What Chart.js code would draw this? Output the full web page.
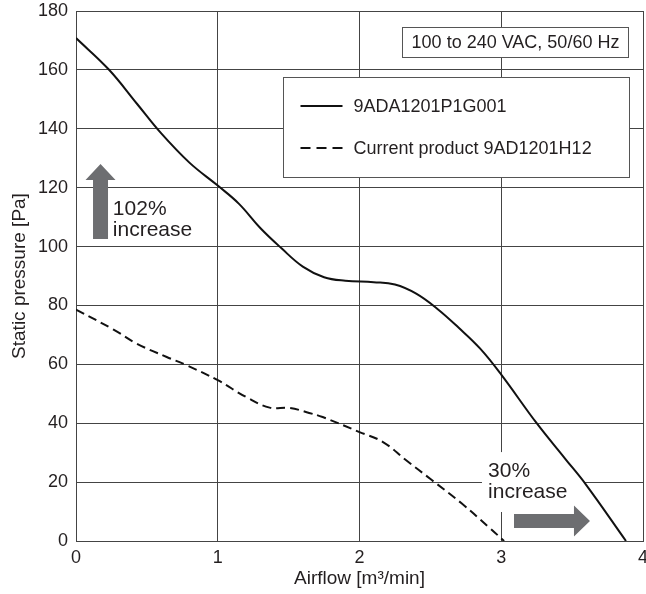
<!DOCTYPE html>
<html><head><meta charset="utf-8">
<script src="https://cdn.jsdelivr.net/npm/chart.js@4"></script>
<style>
html,body{margin:0;padding:0;background:#fff;overflow:hidden;}
#wrap{width:646px;height:594px;position:relative;overflow:hidden;}
</style></head><body>
<div id="wrap"><canvas id="c" width="646" height="594"></canvas></div>
<script>
// ---- data ----
const seriesNames = ['9ADA1201P1G001', 'Current product 9AD1201H12'];
const newAirflow = [0, 0.23, 0.43, 0.6, 0.8, 1.0, 1.15, 1.3, 1.45, 1.6, 1.75, 1.9, 2.1, 2.25, 2.4, 2.55, 2.7, 2.85, 3.0, 3.25, 3.45, 3.6, 3.88];
const newPressure = [170.8, 160.2, 148.5, 138.5, 128.5, 120.7, 114.5, 106.3, 99.4, 93.2, 89.6, 88.4, 87.9, 87.1, 84.0, 78.8, 72.4, 65.4, 56.5, 40, 28, 19, 0];
const curAirflow = [0, 0.265, 0.43, 0.64, 0.78, 1.0, 1.2, 1.366, 1.505, 1.645, 1.74, 2.0, 2.163, 2.327, 2.51, 2.72, 2.91, 3.02];
const curPressure = [78.6, 71.8, 67, 62.5, 59.7, 54.6, 48.9, 45.3, 45.2, 43.5, 42.1, 37, 33.7, 27.5, 20.7, 12.8, 4.8, 0];
const xTickValues = [0, 1, 2, 3, 4];
const yTickValues = [0, 20, 40, 60, 80, 100, 120, 140, 160, 180];
const xTitle = 'Airflow [m\u00B3/min]';
const yTitle = 'Static pressure [Pa]';
const supplyNote = '100 to 240 VAC, 50/60 Hz';
const pressureNote = ['102%', 'increase'];
const airflowNote = ['30%', 'increase'];

const FONT = '"Liberation Sans", Arial, Helvetica, sans-serif';
const INK = '#231f20';
const GRID = '#444';
const ARROW = '#6d6e71';

function toXY(xs, ys) { return xs.map((x, i) => ({x: x, y: ys[i]})); }

const annot = {
  id: 'annot',
  beforeDatasetsDraw(chart) {
    const {ctx, scales: {x, y}} = chart;
    ctx.save();
    ctx.fillStyle = '#fff';
    const l = x.getPixelForValue(2.864), r = x.getPixelForValue(3.59);
    const t = y.getPixelForValue(30.2), b = y.getPixelForValue(9.85);
    ctx.fillRect(l, t, r - l, b - t);
    ctx.restore();
  },
  afterDatasetsDraw(chart) {
    const {ctx, scales: {x, y}} = chart;
    const px = v => x.getPixelForValue(v), py = v => y.getPixelForValue(v);
    ctx.save();
    // supply box
    let l = Math.round(px(2.30)) + 0.5, r = Math.round(px(3.894)) + 0.5;
    let t = Math.round(py(174.6)) + 0.5, b = Math.round(py(164.4)) + 0.5;
    ctx.fillStyle = '#fff'; ctx.fillRect(l, t, r - l, b - t);
    ctx.strokeStyle = '#555'; ctx.lineWidth = 1; ctx.strokeRect(l, t, r - l, b - t);
    ctx.fillStyle = INK; ctx.font = '18px ' + FONT; ctx.textBaseline = 'middle'; ctx.textAlign = 'center';
    ctx.fillText(supplyNote, (l + r) / 2, (t + b) / 2 + 1);
    // legend box
    l = Math.round(px(1.46)) + 0.5; r = Math.round(px(3.90)) + 0.5;
    t = Math.round(py(157.6)) + 0.5; b = Math.round(py(123.6)) + 0.5;
    ctx.fillStyle = '#fff'; ctx.fillRect(l, t, r - l, b - t);
    ctx.strokeStyle = '#555'; ctx.strokeRect(l, t, r - l, b - t);
    const rows = [py(147.7), py(133.5)];
    const dashes = [[], [10, 6]];
    ctx.textAlign = 'left';
    rows.forEach((ry, i) => {
      ctx.strokeStyle = '#111'; ctx.lineWidth = 2; ctx.setLineDash(dashes[i]);
      ctx.beginPath(); ctx.moveTo(l + 17, ry); ctx.lineTo(l + 59, ry); ctx.stroke();
      ctx.setLineDash([]);
      ctx.fillStyle = INK; ctx.fillText(seriesNames[i], l + 70, ry + 1);
    });
    // up arrow
    ctx.fillStyle = ARROW;
    const ax = px(0.173), tip = py(128), hb = py(122.6), sb = py(102.6);
    ctx.beginPath();
    ctx.moveTo(ax, tip); ctx.lineTo(ax + 15, hb); ctx.lineTo(ax + 7.5, hb); ctx.lineTo(ax + 7.5, sb);
    ctx.lineTo(ax - 7.5, sb); ctx.lineTo(ax - 7.5, hb); ctx.lineTo(ax - 15, hb); ctx.closePath(); ctx.fill();
    // right arrow
    const ay = py(6.8), s0 = px(3.09), hb2 = px(3.513), tip2 = px(3.626);
    ctx.beginPath();
    ctx.moveTo(tip2, ay); ctx.lineTo(hb2, ay - 15.5); ctx.lineTo(hb2, ay - 7); ctx.lineTo(s0, ay - 7);
    ctx.lineTo(s0, ay + 7); ctx.lineTo(hb2, ay + 7); ctx.lineTo(hb2, ay + 15.5); ctx.closePath(); ctx.fill();
    // notes
    ctx.fillStyle = INK; ctx.font = '21px ' + FONT; ctx.textBaseline = 'alphabetic'; ctx.textAlign = 'left';
    ctx.fillText(pressureNote[0], px(0.26), py(110.6));
    ctx.fillText(pressureNote[1], px(0.26), py(103.6));
    ctx.fillText(airflowNote[0], px(2.907), py(21.7));
    ctx.fillText(airflowNote[1], px(2.907), py(14.6));
    ctx.restore();
  }
};

new Chart(document.getElementById('c'), {
  type: 'line',
  data: {
    datasets: [
      {label: seriesNames[0], data: toXY(newAirflow, newPressure), borderColor: '#111', borderWidth: 2,
       pointRadius: 0, tension: 0.4, fill: false},
      {label: seriesNames[1], data: toXY(curAirflow, curPressure), borderColor: '#111', borderWidth: 2,
       borderDash: [9, 5], pointRadius: 0, tension: 0.4, fill: false}
    ]
  },
  options: {
    responsive: false, animation: false, devicePixelRatio: 1,
    layout: {padding: {top: 11, right: 3, left: 0, bottom: 0}},
    plugins: {legend: {display: false}, tooltip: {enabled: false}},
    scales: {
      x: {
        type: 'linear', min: 0, max: 4,
        afterBuildTicks: s => { s.ticks = xTickValues.map(v => ({value: v})); },
        afterFit: s => { s.height = 53; s.paddingLeft = 0; s.paddingRight = 0; },
        ticks: {font: {family: FONT, size: 18}, color: INK, padding: 6, maxRotation: 0},
        grid: {color: GRID, lineWidth: 1, drawTicks: false},
        border: {color: GRID, width: 1},
        title: {display: true, text: xTitle, font: {family: FONT, size: 19}, color: INK, padding: {top: 0, bottom: 4}}
      },
      y: {
        type: 'linear', min: 0, max: 180,
        afterBuildTicks: s => { s.ticks = yTickValues.map(v => ({value: v})); },
        afterFit: s => { s.width = 76; s.paddingTop = 0; s.paddingBottom = 0; },
        ticks: {font: {family: FONT, size: 18}, color: INK, padding: 8},
        grid: {color: GRID, lineWidth: 1, drawTicks: false},
        border: {color: GRID, width: 1},
        title: {display: true, text: yTitle, font: {family: FONT, size: 19}, color: INK, padding: {top: 8, bottom: 0}}
      }
    }
  },
  plugins: [annot]
});
</script>
</body></html>
